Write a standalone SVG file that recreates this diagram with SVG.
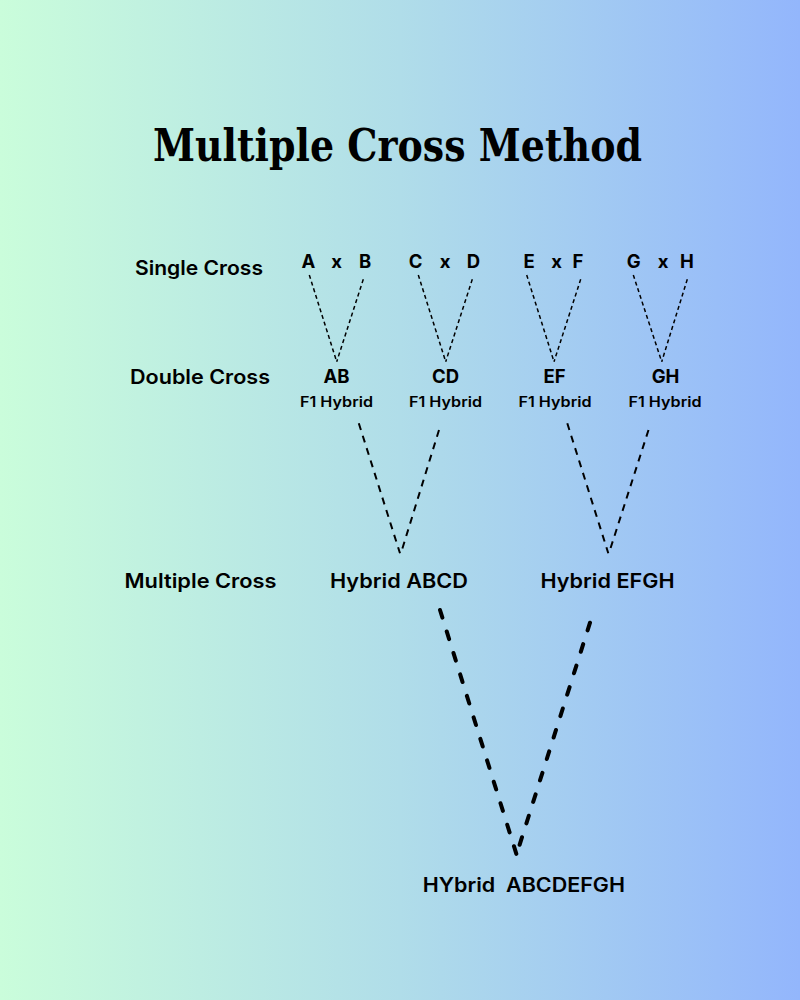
<svg xmlns="http://www.w3.org/2000/svg" width="800" height="1000" viewBox="0 0 800 1000">
<defs>
<linearGradient id="bg" x1="0" y1="0" x2="1" y2="0">
<stop offset="0" stop-color="#cafddb"/>
<stop offset="0.5" stop-color="#b0dde9"/>
<stop offset="1" stop-color="#93b6fc"/>
</linearGradient>
<style>
.t{font-family:"DejaVu Serif","Liberation Serif",serif;font-weight:bold;fill:#000}
.lab{font-family:Inter,"Open Sans","Liberation Sans",sans-serif;font-weight:600;font-size:20px;fill:#000}
.let{font-family:Inter,"Liberation Sans",sans-serif;font-weight:700;font-size:18.5px;fill:#000;text-anchor:middle}
.sub{font-family:Inter,"Liberation Sans",sans-serif;font-weight:600;font-size:14px;fill:#000;text-anchor:middle}
.d1{stroke:#000;stroke-width:1.5;stroke-dasharray:4 3;fill:none}
.d2{stroke:#000;stroke-width:2;stroke-dasharray:7 6;fill:none}
.d3{stroke:#000;stroke-width:4;stroke-dasharray:8 14.5;stroke-linecap:round;fill:none}
</style>
</defs>
<rect width="800" height="1000" fill="url(#bg)"/>
<text id="title" class="t" x="153" y="161" font-size="44" textLength="489" lengthAdjust="spacingAndGlyphs">Multiple Cross Method</text>

<g id="labels">
<text class="lab" x="135" y="275" textLength="128" lengthAdjust="spacingAndGlyphs">Single Cross</text>
<text class="lab" x="130" y="384" textLength="140" lengthAdjust="spacingAndGlyphs">Double Cross</text>
<text class="lab" x="124.5" y="588" textLength="152" lengthAdjust="spacingAndGlyphs">Multiple Cross</text>
</g>

<g id="parents">
<text class="let" x="308.5" y="268">A</text><text class="let" x="336.7" y="268">x</text><text class="let" x="365" y="268">B</text>
<text class="let" x="415.5" y="268">C</text><text class="let" x="445" y="268">x</text><text class="let" x="473.5" y="268">D</text>
<text class="let" x="529" y="268">E</text><text class="let" x="556.7" y="268">x</text><text class="let" x="578" y="268">F</text>
<text class="let" x="633.7" y="268">G</text><text class="let" x="663" y="268">x</text><text class="let" x="687" y="268">H</text>
</g>

<g id="AB"><text class="let" x="336.5" y="383.3">AB</text><text class="sub" x="336.5" y="406.5" textLength="73" lengthAdjust="spacingAndGlyphs">F1 Hybrid</text></g>
<g id="CD"><text class="let" x="445.5" y="383.3">CD</text><text class="sub" x="445.5" y="406.5" textLength="73" lengthAdjust="spacingAndGlyphs">F1 Hybrid</text></g>
<g id="EF"><text class="let" x="554.5" y="383.3">EF</text><text class="sub" x="555" y="406.5" textLength="73" lengthAdjust="spacingAndGlyphs">F1 Hybrid</text></g>
<g id="GH"><text class="let" x="665.5" y="383.3">GH</text><text class="sub" x="665" y="406.5" textLength="73" lengthAdjust="spacingAndGlyphs">F1 Hybrid</text></g>

<g id="ABCD"><text class="lab" x="330" y="588.3" textLength="138" lengthAdjust="spacingAndGlyphs">Hybrid ABCD</text></g>
<g id="EFGH"><text class="lab" x="540.5" y="588.3" textLength="134" lengthAdjust="spacingAndGlyphs">Hybrid EFGH</text></g>
<g id="ABCDEFGH"><text class="lab" x="422.7" y="891.7" font-size="21" textLength="202.3" lengthAdjust="spacingAndGlyphs" xml:space="preserve">HYbrid  ABCDEFGH</text></g>

<g id="connectors">
<line class="d1" x1="309.3" y1="275" x2="336.7" y2="361.7"/>
<line class="d1" x1="363.3" y1="279.3" x2="336.7" y2="361.7"/>
<line class="d1" x1="418.3" y1="275" x2="445.7" y2="361.7"/>
<line class="d1" x1="472.3" y1="279.3" x2="445.7" y2="361.7"/>
<line class="d1" x1="526.7" y1="275" x2="554" y2="361.7"/>
<line class="d1" x1="580.7" y1="279.3" x2="554" y2="361.7"/>
<line class="d1" x1="633.3" y1="275" x2="661.7" y2="361.7"/>
<line class="d1" x1="687.3" y1="279.3" x2="661.7" y2="361.7"/>

<line class="d2" x1="358.8" y1="423.3" x2="400" y2="553.3"/>
<line class="d2" x1="439" y1="430" x2="401" y2="553"/>
<line class="d2" x1="567.3" y1="423.3" x2="608.3" y2="553.3"/>
<line class="d2" x1="648.5" y1="430" x2="609" y2="553"/>

<line class="d3" x1="440" y1="610" x2="516.7" y2="855"/>
<line class="d3" x1="590" y1="622.7" x2="519" y2="846.7"/>
</g>
</svg>
